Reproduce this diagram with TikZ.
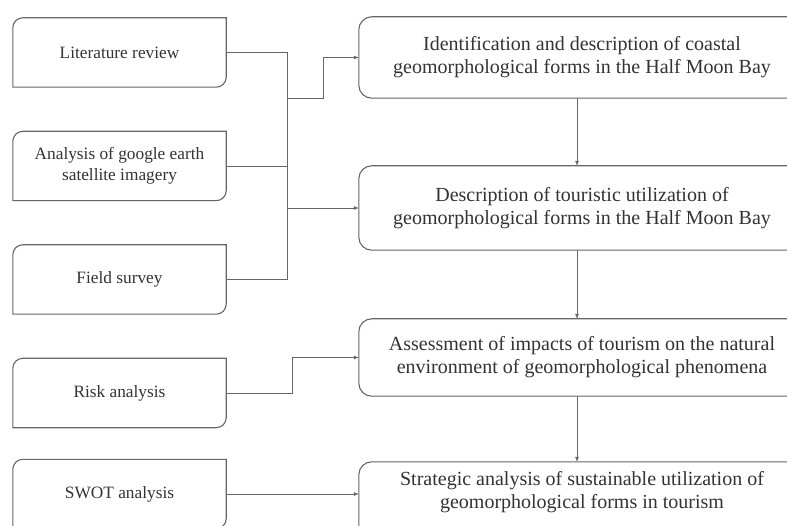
\documentclass[tikz,border=0pt]{standalone}
\usepackage{fontspec}
\setmainfont{Liberation Serif}
\usetikzlibrary{arrows.meta,calc}
\definecolor{txt}{HTML}{333333}
\definecolor{ln}{HTML}{666666}
\begin{document}
\begin{tikzpicture}[x=1pt,y=1pt,
  lbox/.style={minimum width=213pt,minimum height=69pt,inner sep=0pt,align=center,text=txt,
    font=\fontsize{17.3}{21}\selectfont},
  rbox/.style={minimum width=446pt,inner sep=0pt,align=center,text=txt,
    font=\fontsize{20}{23}\selectfont},
  outline/.style={draw=ln,line width=1.1pt},
  conn/.style={draw=ln,line width=0.7pt},
  arr/.style={conn,-{Latex[length=5pt,width=4pt]}}]
\clip (0,0) rectangle (787,525);
\fill[white] (0,0) rectangle (787,525);
% left boxes
\node[lbox] (L1) at (119.5,472.5) {Literature review};
\node[lbox] (L2) at (119.5,359) {Analysis of google earth\\satellite imagery};
\node[lbox] (L3) at (119.5,245.5) {Field survey};
\node[lbox] (L4) at (119.5,132) {Risk analysis};
\node[lbox] (L5) at (119.5,31) {SWOT analysis};
\foreach \n in {L1,L2,L3,L4,L5}{
  \draw[outline] (\n.south west) -- ($(\n.north west)+(0,-10)$)
    arc[start angle=180,end angle=90,radius=10pt] -- (\n.north east)
    -- ($(\n.south east)+(0,10)$) arc[start angle=0,end angle=-90,radius=10pt]
    -- cycle;
}
% right boxes
\node[rbox,minimum height=81pt] (R1) at (582,467.5) {Identification and description of coastal\\geomorphological forms in the Half Moon Bay};
\node[rbox,minimum height=84pt] (R2) at (582,317) {Description of touristic utilization of\\geomorphological forms in the Half Moon Bay};
\node[rbox,minimum height=77pt] (R3) at (582,167.5) {Assessment of impacts of tourism on the natural\\environment of geomorphological phenomena};
\node[rbox,minimum height=60pt] (R4) at (582,33) {Strategic analysis of sustainable utilization of\\geomorphological forms in tourism};
\foreach \n in {R1,R2,R3}{
  \draw[outline,rounded corners=13pt] (\n.south west) rectangle (\n.north east);
}
\draw[outline,rounded corners=13pt] ($(R4.south west)+(0,-30)$) rectangle (R4.north east);
% connectors
\coordinate (T1) at (287,472.5);
\coordinate (T3) at (287,245.5);
\draw[conn] (L1.east) -- (T1) -- (T3) -- (L3.east);
\draw[conn] (L2.east) -- (L2.east -| T1);
\draw[arr] (287,427) -- (323,427) -- (323,467.5) -- (R1.west);
\draw[arr] (287,317) -- (R2.west);
\draw[arr] (L4.east) -- (292,132) -- (292,167.5) -- (R3.west);
\draw[arr] (L5.east) -- (L5.east -| R4.west);
\draw[arr] ([xshift=-5pt]R1.south) -- ([xshift=-5pt]R2.north);
\draw[arr] ([xshift=-5pt]R2.south) -- ([xshift=-5pt]R3.north);
\draw[arr] ([xshift=-5pt]R3.south) -- ([xshift=-5pt]R4.north);
\end{tikzpicture}
\end{document}
